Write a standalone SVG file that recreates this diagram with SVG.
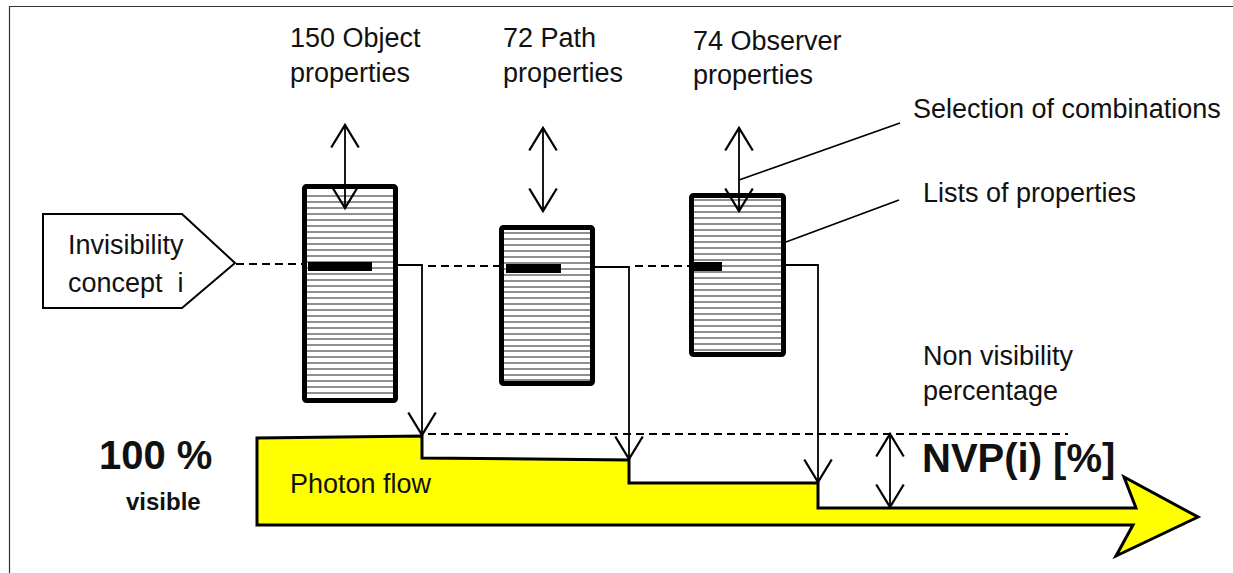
<svg xmlns="http://www.w3.org/2000/svg" width="1233" height="573" viewBox="0 0 1233 573">
<defs>
<style>
text{font-family:"Liberation Sans",Arial,sans-serif;fill:#111;}
.t{font-size:27px;}
.b{font-weight:bold;}
.box{fill:#fff;stroke:#000;stroke-width:5;}
.hatch{fill:none;stroke:#222;stroke-width:1.2;}
.ln{fill:none;stroke:#000;stroke-width:1.8;}
.dash{fill:none;stroke:#000;stroke-width:1.8;stroke-dasharray:8 5;}
.frame{fill:none;stroke:#333;stroke-width:1.2;}
</style>
<marker id="chev" markerUnits="userSpaceOnUse" markerWidth="30" markerHeight="30" viewBox="-20 -12 22 24" refX="0" refY="0" orient="auto-start-reverse">
<path d="M-18,-11 L0,0 L-18,11" fill="none" stroke="#000" stroke-width="1.8"/>
</marker>
</defs>
<path class="frame" d="M9.5,573 V6.5 H1233"/>

<g id="photon-flow">
<path d="M257,438 L422,436 L422,458 L629,460 L629,483 L818,483 L818,508 L1136,508 L1124,477 L1198,517 L1116,556 L1133,525 L257,525 Z" fill="#ffff00" stroke="#000" stroke-width="3" stroke-linejoin="miter"/>
<text class="t" x="290" y="493" font-size="26">Photon flow</text>
</g>

<g id="invisibility-concept">
<polygon points="43,214 182,214 235,263 182,308 43,308" fill="#fff" stroke="#000" stroke-width="2"/>
<text class="t" x="68" y="254" font-size="26">Invisibility</text>
<text class="t" x="68" y="292" font-size="26" style="white-space:pre">concept  i</text>
</g>

<g id="object-properties">
<rect class="box" x="304.5" y="186.5" width="91" height="214" rx="2"/>
<path class="hatch" d="M307,196H393M307,202H393M307,208H393M307,214H393M307,220H393M307,226H393M307,232H393M307,238H393M307,244H393M307,250H393M307,256H393M307,262H393M307,268H393M307,274H393M307,280H393M307,286H393M307,292H393M307,298H393M307,304H393M307,310H393M307,316H393M307,322H393M307,328H393M307,334H393M307,339H393M307,345H393M307,351H393M307,357H393M307,363H393M307,369H393M307,375H393M307,381H393M307,387H393M307,393H393"/>
<rect x="308" y="262" width="64" height="9" fill="#000"/>
<text class="t" x="290" y="47">150 Object</text>
<text class="t" x="290" y="82">properties</text>
</g>

<g id="path-properties">
<rect class="box" x="501.5" y="227.5" width="91" height="156" rx="2"/>
<path class="hatch" d="M504,233H590M504,239H590M504,245H590M504,251H590M504,257H590M504,263H590M504,269H590M504,275H590M504,281H590M504,287H590M504,292H590M504,298H590M504,304H590M504,310H590M504,316H590M504,322H590M504,328H590M504,334H590M504,340H590M504,346H590M504,351H590M504,357H590M504,363H590M504,369H590M504,375H590M504,380H590"/>
<rect x="506" y="264" width="55" height="9" fill="#000"/>
<text class="t" x="503" y="47">72 Path</text>
<text class="t" x="503" y="82">properties</text>
</g>

<g id="observer-properties">
<rect class="box" x="691.5" y="195.5" width="92" height="159" rx="2"/>
<path class="hatch" d="M694,200H781M694,206H781M694,212H781M694,218H781M694,224H781M694,230H781M694,236H781M694,242H781M694,248H781M694,254H781M694,260H781M694,266H781M694,272H781M694,278H781M694,284H781M694,290H781M694,296H781M694,302H781M694,308H781M694,314H781M694,320H781M694,326H781M694,332H781M694,338H781M694,344H781M694,350H781"/>
<rect x="692" y="262" width="30" height="9" fill="#000"/>
<text class="t" x="693" y="50">74 Observer</text>
<text class="t" x="693" y="84">properties</text>
</g>

<g id="labels">
<text class="t" x="913" y="118">Selection of combinations</text>
<text class="t" x="923" y="202">Lists of properties</text>
<text class="t" x="923" y="365">Non visibility</text>
<text class="t" x="923" y="400">percentage</text>
<text class="b" x="99" y="469" font-size="40">100 %</text>
<text class="b" x="126" y="510" font-size="24">visible</text>
<text class="b" x="922" y="472" font-size="40">NVP(i) [%]</text>
</g>

<g id="connectors">
<line class="ln" x1="345" y1="125" x2="345" y2="208" marker-start="url(#chev)" marker-end="url(#chev)"/>
<line class="ln" x1="543" y1="128" x2="543" y2="211" marker-start="url(#chev)" marker-end="url(#chev)"/>
<line class="ln" x1="739" y1="128" x2="739" y2="211" marker-start="url(#chev)" marker-end="url(#chev)"/>
<line class="ln" x1="890" y1="434" x2="890" y2="507" marker-start="url(#chev)" marker-end="url(#chev)"/>
<line class="ln" x1="739" y1="180" x2="900" y2="123"/>
<line class="ln" x1="786" y1="242" x2="899" y2="200"/>
<path class="dash" d="M236,264H302"/>
<path class="dash" d="M428,266H499"/>
<path class="dash" d="M635,266H689"/>
<path class="dash" d="M428,434H1068"/>
<path class="ln" d="M398,265H422V435" marker-end="url(#chev)"/>
<path class="ln" d="M595,267H629V459" marker-end="url(#chev)"/>
<path class="ln" d="M786,265H818V482" marker-end="url(#chev)"/>
</g>
</svg>
